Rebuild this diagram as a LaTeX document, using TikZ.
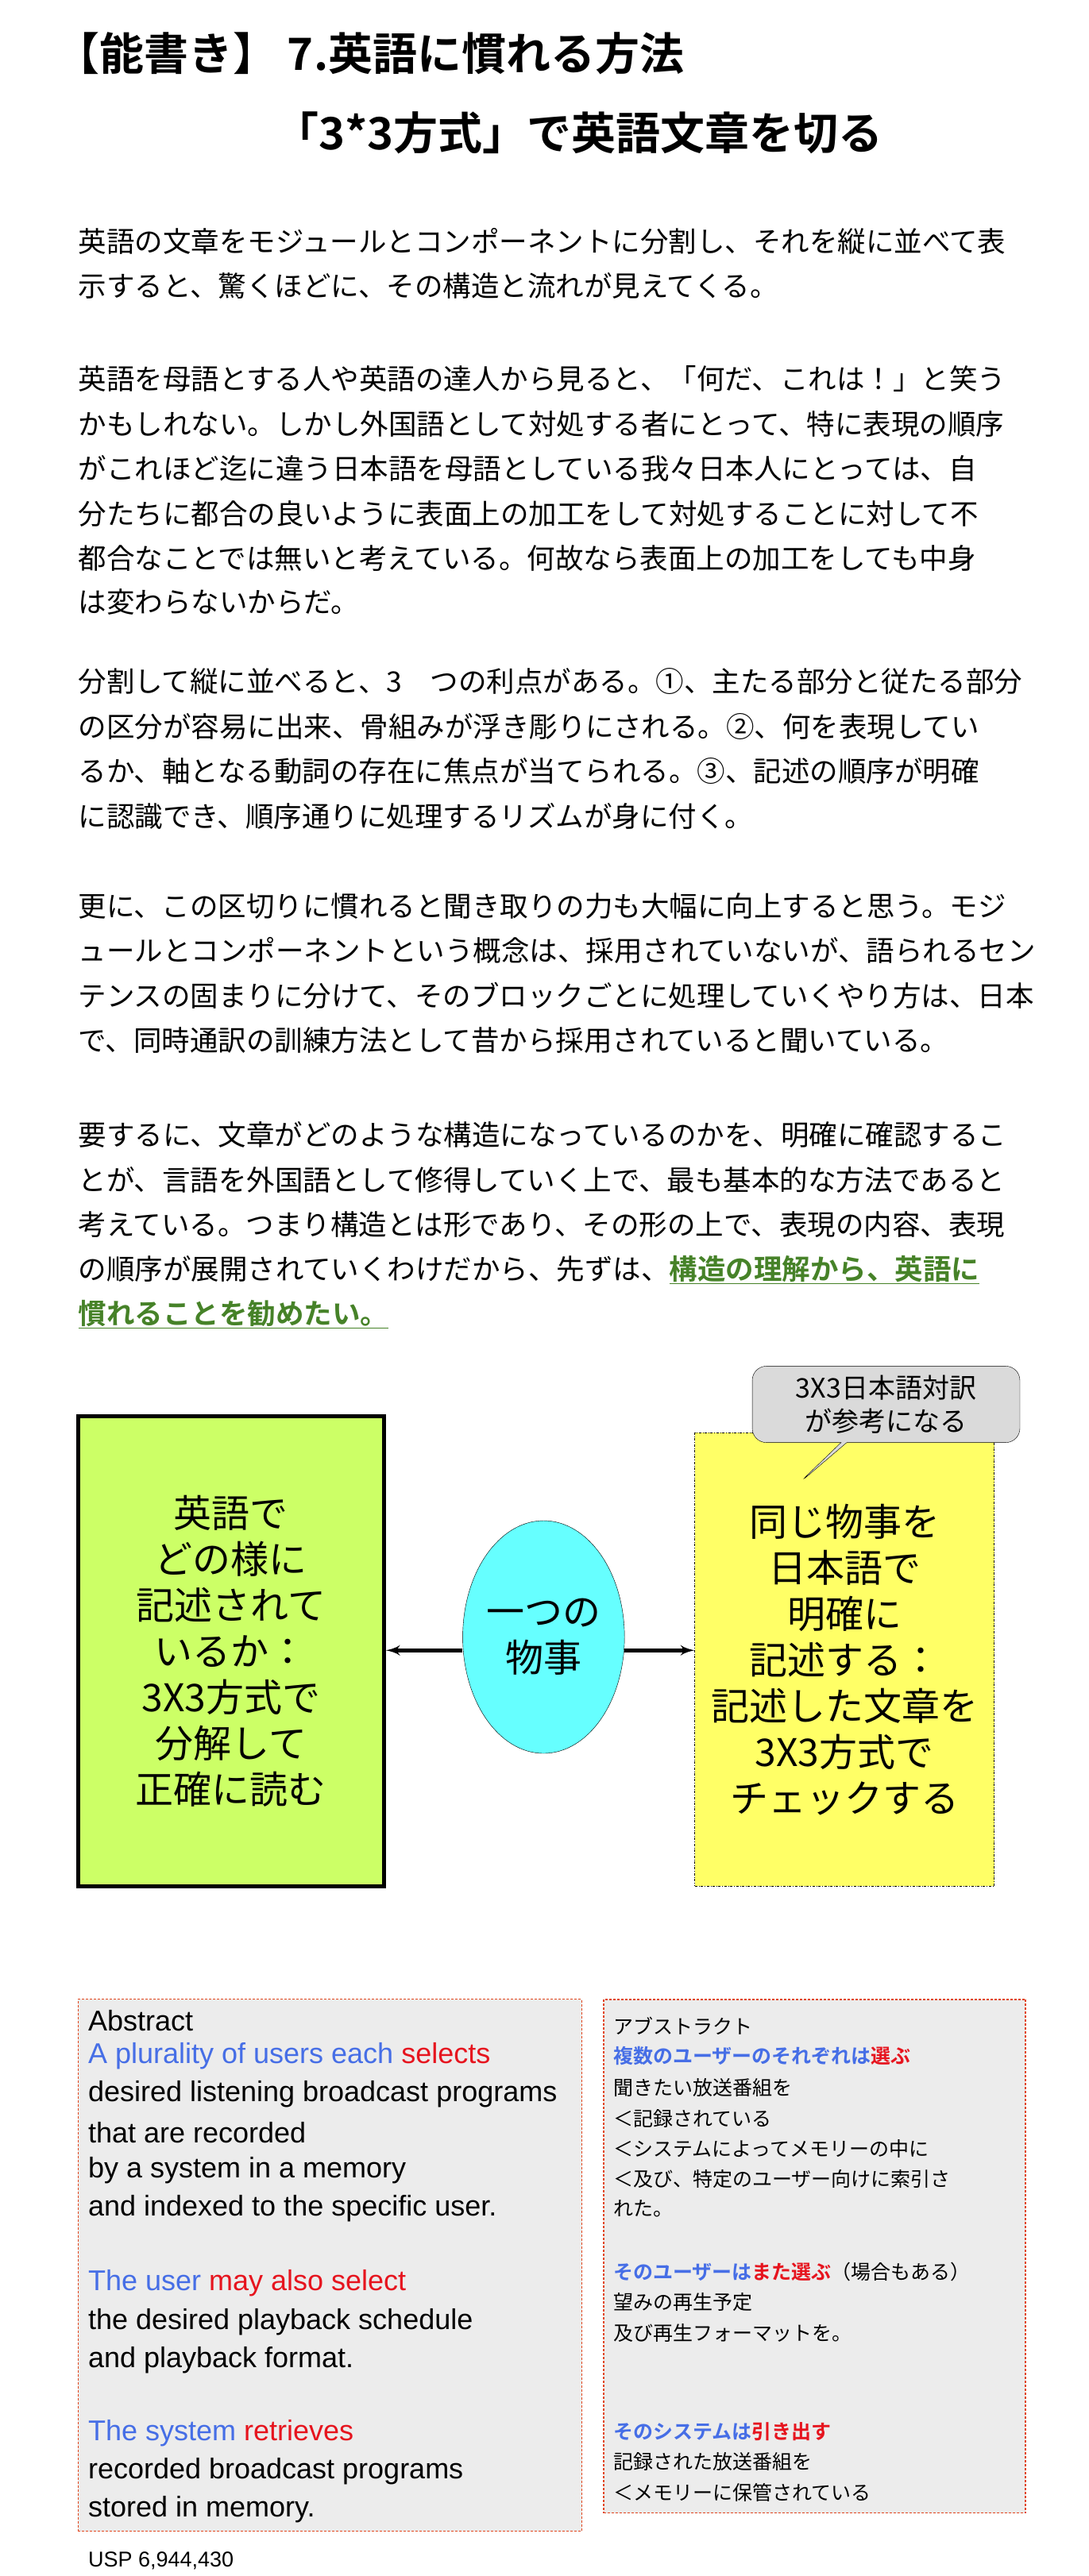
\documentclass[tikz,border=0pt]{standalone}
\usepackage{fontspec}
\usetikzlibrary{shapes.geometric,shapes.callouts,arrows}
\newfontfamily\jp{Noto Sans CJK JP}
\newfontfamily\jpb{Noto Sans CJK JP Bold}
\newfontfamily\ar{Liberation Sans}
\definecolor{boxgreen}{RGB}{204,255,102}
\definecolor{boxyellow}{RGB}{255,255,102}
\definecolor{thingcyan}{RGB}{102,255,255}
\definecolor{notegray}{RGB}{218,218,218}
\definecolor{panelgray}{RGB}{236,236,236}
\definecolor{panelred}{RGB}{225,70,30}
\definecolor{linkgreen}{RGB}{70,130,40}
\definecolor{subjblue}{RGB}{70,110,230}
\definecolor{verbred}{RGB}{230,20,30}
\begin{document}
\begin{tikzpicture}[x=2.093pt,y=-2.093pt]
			\tikzset{title/.style={anchor=west, inner sep=0, font=\jpb\fontsize{56}{56}\selectfont}}
			\tikzset{para/.style={anchor=west, inner sep=0, font=\jp\fontsize{35.5}{35.5}\selectfont}}
			\tikzset{big/.style={align=center, font=\jp\fontsize{48}{58}\selectfont}}
			\tikzset{en/.style={anchor=west, inner sep=0, font=\ar\fontsize{36}{36}\selectfont}}
			\tikzset{ja/.style={anchor=west, inner sep=0, font=\jp\fontsize{25}{25}\selectfont}}
			\tikzset{link/.style={->, > = latex', line width=5pt}}
			\useasboundingbox (0,0) rectangle (655,1550);
			%title
			\node[title] (t1) at (33,32) {【能書き】 7.英語に慣れる方法};
			\node[title] (t2) at (165,80) {「3*3方式」で英語文章を切る};
			%text
			\node[para] (p1) at (47,145) {英語の文章をモジュールとコンポーネントに分割し、それを縦に並べて表};
			\node[para] (p2) at (47,172) {示すると、驚くほどに、その構造と流れが見えてくる。};
			\node[para] (p3) at (47,228) {英語を母語とする人や英語の達人から見ると、「何だ、これは！」と笑う};
			\node[para] (p4) at (47,255) {かもしれない。しかし外国語として対処する者にとって、特に表現の順序};
			\node[para] (p5) at (47,282) {がこれほど迄に違う日本語を母語としている我々日本人にとっては、自};
			\node[para] (p6) at (47,309) {分たちに都合の良いように表面上の加工をして対処することに対して不};
			\node[para] (p7) at (47,336) {都合なことでは無いと考えている。何故なら表面上の加工をしても中身};
			\node[para] (p8) at (47,362) {は変わらないからだ。};
			\node[para] (p9) at (47,410) {分割して縦に並べると、3　つの利点がある。①、主たる部分と従たる部分};
			\node[para] (p10) at (47,437) {の区分が容易に出来、骨組みが浮き彫りにされる。②、何を表現してい};
			\node[para] (p11) at (47,464) {るか、軸となる動詞の存在に焦点が当てられる。③、記述の順序が明確};
			\node[para] (p12) at (47,491) {に認識でき、順序通りに処理するリズムが身に付く。};
			\node[para] (p13) at (47,545) {更に、この区切りに慣れると聞き取りの力も大幅に向上すると思う。モジ};
			\node[para] (p14) at (47,572) {ュールとコンポーネントという概念は、採用されていないが、語られるセン};
			\node[para] (p15) at (47,599) {テンスの固まりに分けて、そのブロックごとに処理していくやり方は、日本};
			\node[para] (p16) at (47,626) {で、同時通訳の訓練方法として昔から採用されていると聞いている。};
			\node[para] (p17) at (47,683) {要するに、文章がどのような構造になっているのかを、明確に確認するこ};
			\node[para] (p18) at (47,710) {とが、言語を外国語として修得していく上で、最も基本的な方法であると};
			\node[para] (p19) at (47,737) {考えている。つまり構造とは形であり、その形の上で、表現の内容、表現};
			\node[para] (p20) at (47,764) {の順序が展開されていくわけだから、先ずは、\textcolor{linkgreen}{\jpb\underline{構造の理解から、英語に}}};
			\node[para] (p21) at (47,791) {\textcolor{linkgreen}{\jpb\underline{慣れることを勧めたい。}}};
			%diagram
			\node[draw, line width=5pt, fill=boxgreen, minimum width=184*2.093pt, minimum height=283*2.093pt, big] (eng) at (139,993.5)
				{英語で\\どの様に\\記述されて\\いるか：\\3X3方式で\\分解して\\正確に読む};
			\node[draw, dash dot, line width=1pt, fill=boxyellow, minimum width=180*2.093pt, minimum height=273*2.093pt, big] (jpn) at (508,998.5)
				{同じ物事を\\日本語で\\明確に\\記述する：\\記述した文章を\\3X3方式で\\チェックする};
			\node[draw, ellipse, fill=thingcyan, minimum width=86*2.093pt, minimum height=140*2.093pt, inner sep=0, big] (thing) at (327,985)
				{一つの\\物事};
			\node[draw, rectangle callout, rounded corners=18pt, fill=notegray, minimum width=161*2.093pt, minimum height=46*2.093pt,
				align=center, font=\jp\fontsize{34}{42}\selectfont, callout absolute pointer={(480,893)}] (note) at (533,845)
				{3X3日本語対訳\\が参考になる};
			\draw[link] (thing.west |- 0,993) -- (eng.east |- 0,993);
			\draw[link] (thing.east |- 0,993) -- (jpn.west |- 0,993);
			%abstract panels
			\node[draw=panelred, densely dashed, line width=1.2pt, fill=panelgray, minimum width=303*2.093pt, minimum height=320*2.093pt] (absen) at (198.5,1363) {};
			\node[draw=panelred, densely dashed, line width=1.8pt, fill=panelgray, minimum width=254*2.093pt, minimum height=309*2.093pt] (absja) at (490,1357.5) {};
			\node[en] (e1) at (53,1216) {Abstract};
			\node[en] (e2) at (53,1237) {\textcolor{subjblue}{A plurality of users each} \textcolor{verbred}{selects}};
			\node[en] (e3) at (53,1260) {desired listening broadcast programs};
			\node[en] (e4) at (53,1283) {that are recorded};
			\node[en] (e5) at (53,1306) {by a system in a memory};
			\node[en] (e6) at (53,1329) {and indexed to the specific user.};
			\node[en] (e7) at (53,1374) {\textcolor{subjblue}{The user} \textcolor{verbred}{may also select}};
			\node[en] (e8) at (53,1397) {the desired playback schedule};
			\node[en] (e9) at (53,1420) {and playback format.};
			\node[en] (e10) at (53,1464) {\textcolor{subjblue}{The system} \textcolor{verbred}{retrieves}};
			\node[en] (e11) at (53,1487) {recorded broadcast programs};
			\node[en] (e12) at (53,1510) {stored in memory.};
			\node[ja] (j1) at (369,1219) {アブストラクト};
			\node[ja] (j2) at (369,1237) {\jpb\textcolor{subjblue}{複数のユーザーのそれぞれは}\textcolor{verbred}{選ぶ}};
			\node[ja] (j3) at (369,1256) {聞きたい放送番組を};
			\node[ja] (j4) at (369,1275) {＜記録されている};
			\node[ja] (j5) at (369,1293) {＜システムによってメモリーの中に};
			\node[ja] (j6) at (369,1311) {＜及び、特定のユーザー向けに索引さ};
			\node[ja] (j7) at (369,1329) {れた。};
			\node[ja] (j8) at (369,1367) {{\jpb\textcolor{subjblue}{そのユーザーは}\textcolor{verbred}{また選ぶ}}（場合もある）};
			\node[ja] (j9) at (369,1385) {望みの再生予定};
			\node[ja] (j10) at (369,1404) {及び再生フォーマットを。};
			\node[ja] (j11) at (369,1463) {\jpb\textcolor{subjblue}{そのシステムは}\textcolor{verbred}{引き出す}};
			\node[ja] (j12) at (369,1481) {記録された放送番組を};
			\node[ja] (j13) at (369,1500) {＜メモリーに保管されている};
			\node[en, font=\ar\fontsize{27}{27}\selectfont] (usp) at (53,1541) {USP 6,944,430};
		\end{tikzpicture}
\end{document}
